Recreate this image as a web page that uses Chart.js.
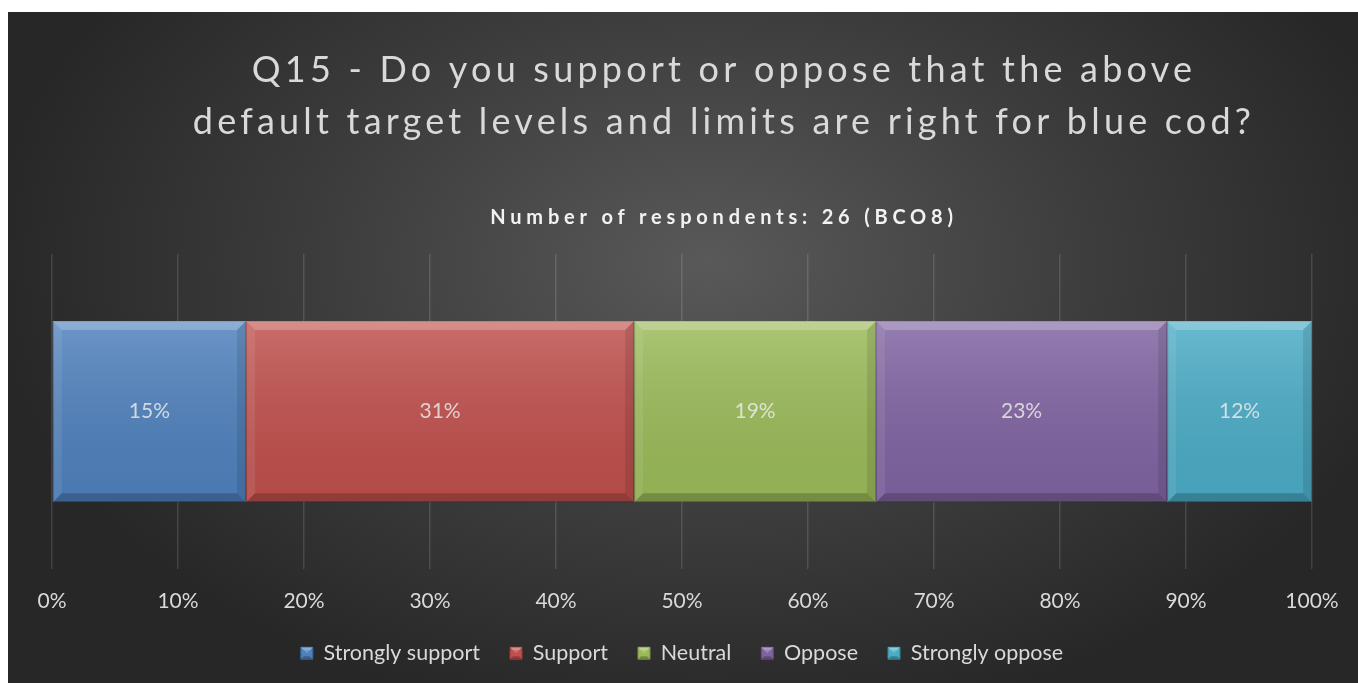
<!DOCTYPE html>
<html>
<head>
<meta charset="utf-8">
<title>Q15 - blue cod</title>
<script src="https://cdn.jsdelivr.net/npm/chart.js@4.4.0/dist/chart.umd.min.js"></script>
<style>
  html, body { margin: 0; padding: 0; background: #fff; }
  #wrap {
    position: absolute; left: 8px; top: 12px; width: 1350px; height: 671px;
    background: radial-gradient(ellipse 720px 470px at 700px 250px, #595959 0%, #3c3c3c 55%, #272727 100%);
  }
  canvas { display: block; }
</style>
</head>
<body>
<div id="wrap"><canvas id="chart"></canvas></div>
<script>
(function(){
  'use strict';

  // chart data
  const CATEGORIES = ['BCO8'];
  const SERIES_NAMES = ['Strongly support', 'Support', 'Neutral', 'Oppose', 'Strongly oppose'];
  const SERIES_VALUES = [15.4, 30.8, 19.2, 23.1, 11.5];
  const SERIES_COLORS = ['#4f81bd', '#c0504d', '#9bbb59', '#8064a2', '#4bacc6'];
  const SERIES_BORDERS = ['#3a6698', '#9a3a38', '#7a9644', '#634d82', '#35889f'];
  const X_MIN = 0, X_MAX = 100, X_STEP = 10;
  const TITLE_LINES = ['Q15 - Do you support or oppose that the above', 'default target levels and limits are right for blue cod?'];
  const SUBTITLE = 'Number of respondents: 26 (BCO8)';

  const TEXT = '#d9d9d9';
  const FONT = 'Lato, "Open Sans", sans-serif';
  const BEVEL = 9;

  function poly(ctx, pts, fill) {
    ctx.beginPath();
    ctx.moveTo(pts[0][0], pts[0][1]);
    for (let i = 1; i < pts.length; i++) ctx.lineTo(pts[i][0], pts[i][1]);
    ctx.closePath();
    ctx.fillStyle = fill;
    ctx.fill();
  }

  // title/subtitle: wide letter spacing and a small shift to the right, as in the original
  const spacedText = {
    id: 'spacedText',
    afterLayout(chart) {
      chart.boxes.forEach(box => {
        const ls = box.options && box.options.letterSpacing;
        if (!ls || box._spaced) return;
        const shift = box.options.shiftX || 0;
        const draw = box.draw;
        box.draw = function (area) {
          const c = chart.ctx;
          c.save();
          c.letterSpacing = ls + 'px';
          c.translate(shift, 0);
          draw.call(this, area);
          c.restore();
          c.letterSpacing = '0px';
        };
        box._spaced = true;
      });
    }
  };

  // soft bevel on each bar, like the office chart style
  const bevel = {
    id: 'bevel',
    afterDatasetsDraw(chart) {
      const ctx = chart.ctx;
      chart.data.datasets.forEach((ds, i) => {
        const meta = chart.getDatasetMeta(i);
        if (meta.hidden) return;
        meta.data.forEach(bar => {
          const p = bar.getProps(['x', 'y', 'base', 'height'], true);
          const l = Math.min(p.x, p.base), r = Math.max(p.x, p.base);
          const t = p.y - p.height / 2, b = p.y + p.height / 2;
          const d = BEVEL;
          ctx.save();
          const g = ctx.createLinearGradient(0, t, 0, b);
          g.addColorStop(0, 'rgba(255,255,255,0.17)');
          g.addColorStop(1, 'rgba(0,0,0,0.06)');
          ctx.fillStyle = g;
          ctx.fillRect(l, t, r - l, b - t);
          poly(ctx, [[l, t], [r, t], [r - d, t + d], [l + d, t + d]], 'rgba(255,255,255,0.22)');
          poly(ctx, [[l, t], [l + d, t + d], [l + d, b - d], [l, b]], 'rgba(255,255,255,0.08)');
          poly(ctx, [[r, t], [r, b], [r - d, b - d], [r - d, t + d]], 'rgba(0,0,0,0.10)');
          poly(ctx, [[l, b], [l + d, b - d], [r - d, b - d], [r, b]], 'rgba(0,0,0,0.20)');
          ctx.restore();
        });
      });
    },
    afterDraw(chart) {
      // same look on the little legend squares
      const lg = chart.legend;
      if (!lg || !lg.legendHitBoxes) return;
      const ctx = chart.ctx;
      const opts = lg.options.labels;
      const fs = opts.font.size;
      lg.legendHitBoxes.forEach(hb => {
        const l = hb.left, t = hb.top + Math.max((fs - opts.boxHeight) / 2, 0);
        const r = l + opts.boxWidth, b = t + opts.boxHeight, d = 3;
        ctx.save();
        poly(ctx, [[l, t], [r, t], [r - d, t + d], [l + d, t + d]], 'rgba(255,255,255,0.35)');
        poly(ctx, [[l, b], [l + d, b - d], [r - d, b - d], [r, b]], 'rgba(0,0,0,0.25)');
        poly(ctx, [[l + d, t + d], [r - d, t + d], [(l + r) / 2, (t + b) / 2]], 'rgba(255,255,255,0.18)');
        ctx.restore();
      });
    }
  };

  // percentage labels in the middle of each segment
  const barLabels = {
    id: 'barLabels',
    afterDatasetsDraw(chart) {
      const ctx = chart.ctx;
      ctx.save();
      ctx.font = '21px ' + FONT;
      ctx.fillStyle = 'rgba(235,235,235,0.82)';
      ctx.textAlign = 'center';
      ctx.textBaseline = 'middle';
      chart.data.datasets.forEach((ds, i) => {
        const meta = chart.getDatasetMeta(i);
        if (meta.hidden) return;
        meta.data.forEach((bar, j) => {
          const c = bar.getCenterPoint();
          ctx.fillText(Math.round(ds.data[j]) + '%', c.x, c.y);
        });
      });
      ctx.restore();
    }
  };

  const datasets = SERIES_NAMES.map((name, i) => ({
    label: name,
    data: [SERIES_VALUES[i]],
    backgroundColor: SERIES_COLORS[i],
    borderColor: SERIES_BORDERS[i],
    borderWidth: 1,
    borderSkipped: false,
    barPercentage: 0.575,
    categoryPercentage: 1
  }));

  const ctx = document.getElementById('chart').getContext('2d');
  new Chart(ctx, {
    type: 'bar',
    data: { labels: CATEGORIES, datasets },
    plugins: [spacedText, bevel, barLabels],
    options: {
      indexAxis: 'y',
      responsive: true,
      maintainAspectRatio: false,
      animation: false,
      layout: { padding: { top: 32, left: 44, right: 46, bottom: 9 } },
      scales: {
        x: {
          stacked: true,
          min: X_MIN,
          max: X_MAX,
          grid: { color: 'rgba(255,255,255,0.13)', lineWidth: 1.5, drawTicks: false },
          border: { display: false },
          ticks: {
            stepSize: X_STEP,
            color: TEXT,
            padding: 19,
            font: { family: FONT, size: 21 },
            callback: v => v + '%'
          },
          afterFit: scale => { scale.height -= 20; }
        },
        y: { stacked: true, display: false }
      },
      plugins: {
        title: {
          display: true,
          text: TITLE_LINES,
          color: TEXT,
          letterSpacing: 4.2,
          shiftX: 42,
          font: { family: FONT, size: 36, weight: 'normal', lineHeight: 1.444 },
          padding: { top: 0, bottom: 58 }
        },
        subtitle: {
          display: true,
          text: SUBTITLE,
          color: '#f2f2f2',
          letterSpacing: 4.8,
          shiftX: 42,
          font: { family: FONT, size: 20, weight: 'bold', lineHeight: 1.2 },
          padding: { top: 0, bottom: 24 }
        },
        legend: {
          position: 'bottom',
          labels: {
            color: TEXT,
            boxWidth: 12,
            boxHeight: 12,
            padding: 30,
            font: { family: FONT, size: 21.5 }
          }
        },
        tooltip: { enabled: false }
      }
    }
  });
})();
</script>
</body>
</html>
